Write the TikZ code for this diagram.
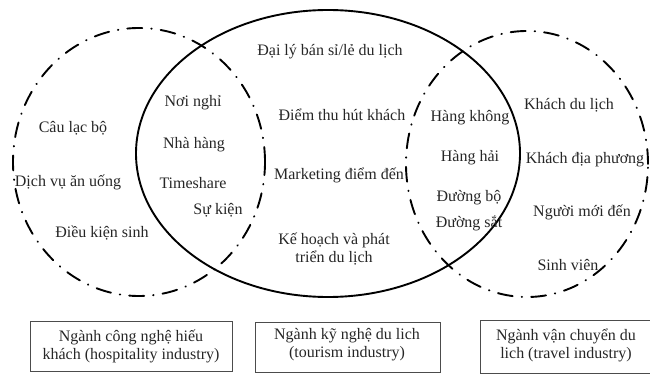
\documentclass[tikz,border=0pt]{standalone}
\usepackage{fontspec}
\setmainfont{Liberation Serif}
\usetikzlibrary{positioning}

\tikzset{
  dashdot line/.style={line width=1.9pt, line cap=round, dash pattern=on 15pt off 9pt on 0.5pt off 9pt},
  solid line/.style={line width=1.9pt},
  item/.style={inner sep=0pt, font=\fontsize{16}{18}\selectfont, text=black!85},
  sectorbox/.style={draw=black!70, line width=0.8pt, inner sep=0pt, align=center, font=\fontsize{16}{18}\selectfont, text=black!85}
}

\begin{document}
\begin{tikzpicture}[x=1pt, y=-1pt]
			\useasboundingbox (0,0) rectangle (650,374);
			% three sectors
			\draw[dashdot line] (139,162) ellipse [x radius=126pt, y radius=134pt];
			\draw[solid line] (328,153.5) ellipse [x radius=192pt, y radius=143.5pt];
			\draw[dashdot line] (527,164) ellipse [x radius=121pt, y radius=133pt];
			% hospitality
			\node[item] (CauLacBo) at (73,128) {Câu lạc bộ};
			\node[item] (DichVu) at (68,182) {Dịch vụ ăn uống};
			\node[item] (DieuKien) at (102,233) {Điều kiện sinh};
			\node[item] (NoiNghi) at (193,103) {Nơi nghỉ};
			\node[item] (NhaHang) at (194,145) {Nhà hàng};
			\node[item] (Timeshare) at (193,183) {Timeshare};
			\node[item] (SuKien) at (218,210) {Sự kiện};
			% tourism
			\node[item] (DaiLy) at (330,52) {Đại lý bán sỉ/lẻ du lịch};
			\node[item] (DiemThu) at (342,115) {Điểm thu hút khách};
			\node[item] (Marketing) at (339,175) {Marketing điểm đến};
			\node[item, align=center] (KeHoach) at (334,249) {Kế hoạch và phát\\triển du lịch};
			% travel
			\node[item] (HangKhong) at (470,118) {Hàng không};
			\node[item] (HangHai) at (470,158) {Hàng hải};
			\node[item] (DuongBo) at (469,198) {Đường bộ};
			\node[item] (DuongSat) at (469,223) {Đường sắt};
			\node[item] (KhachDL) at (569,105) {Khách du lịch};
			\node[item] (KhachDP) at (585,160) {Khách địa phương};
			\node[item] (NguoiMoi) at (582,212) {Người mới đến};
			\node[item] (SinhVien) at (568,265) {Sinh viên};
			% captions
			\draw[sectorbox] (30,321) rectangle (232,371);
			\draw[sectorbox] (255,322) rectangle (440,372);
			\draw[sectorbox] (480,320) rectangle (653,373);
			\node[item, align=center] (HospBox) at (131,346) {Ngành công nghệ hiếu\\khách (hospitality industry)};
			\node[item, align=center] (TourBox) at (347,345) {Ngành kỹ nghệ du lich\\(tourism industry)};
			\node[item, align=center] (TravBox) at (566,345) {Ngành vận chuyển du\\lich (travel industry)};
		\end{tikzpicture}
\end{document}
